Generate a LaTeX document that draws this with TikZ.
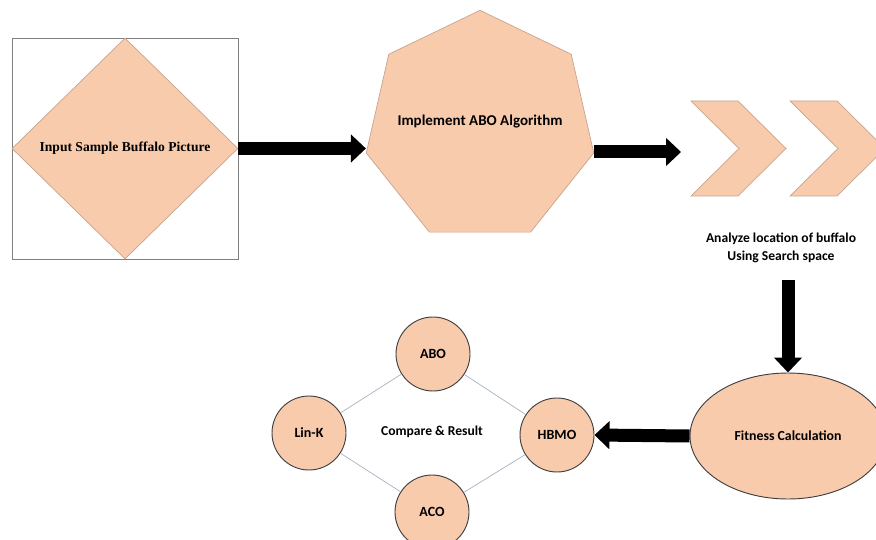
\documentclass[tikz,border=0pt]{standalone}
\usepackage{fontspec}
\setmainfont{Liberation Serif}
\newfontfamily\carlito{Carlito}
\usetikzlibrary{shapes.geometric,arrows.meta,positioning}

\definecolor{peach}{HTML}{F8CBAD}
\definecolor{peachline}{HTML}{C9A48C}
\definecolor{boxgray}{HTML}{7F7F7F}
\definecolor{linkblue}{HTML}{A7B3C1}
\definecolor{rim}{HTML}{404040}

\begin{document}
\begin{tikzpicture}[x=0.03cm, y=-0.03cm,
    fillshape/.style={fill=peach, draw=peachline, line width=0.6pt, inner sep=0pt},
    ball/.style={circle, fill=peach, draw=rim, line width=0.8pt, minimum size=2.22cm, inner sep=0pt,
                 font=\carlito\bfseries\fontsize{12}{14}\selectfont},
    blockarrow/.style={line width=0.39cm, -{Triangle[length=0.45cm, width=0.82cm]}},
    edgeline/.style={draw=linkblue, line width=0.6pt}]
    \useasboundingbox (0,0) rectangle (876,540);
    \clip (0,0) rectangle (876,540);

    \node[draw=boxgray, line width=0.8pt, minimum width=6.78cm, minimum height=6.63cm] (sq) at (125,148.5) {};
    \node[diamond, fillshape, minimum width=6.78cm, minimum height=6.63cm,
          font=\bfseries\fontsize{11.6}{13}\selectfont] (dia) at (125,148.5) {Input Sample Buffalo Picture};
    \node[regular polygon, regular polygon sides=7, fillshape, minimum size=7cm,
          label={[font=\carlito\bfseries\fontsize{12.8}{15}\selectfont, yshift=0.15cm]center:Implement ABO Algorithm}]
          (hept) at (480,127) {};

    \foreach \dx in {0,99}
        \filldraw[fill=peach, draw=peachline, line width=0.6pt] (691+\dx,101) -- (738+\dx,101) -- (786+\dx,148.5)
            -- (738+\dx,196) -- (691+\dx,196) -- (739+\dx,148.5) -- cycle;
    \coordinate (chevin) at (681,152);

    \node[font=\carlito\bfseries\fontsize{11.6}{15}\selectfont, align=center] (ana) at (781,248)
        {Analyze location of buffalo\\Using Search space};
    \node[ellipse, fill=peach, draw=rim, line width=0.8pt, minimum width=5.88cm, minimum height=3.78cm,
          font=\carlito\bfseries\fontsize{11.8}{14}\selectfont] (fit) at (788,436) {Fitness Calculation};

    \node[ball] (hbmo) at (557,435) {HBMO};
    \node[ball] (abo) at (433,354) {ABO};
    \node[ball] (link) at (309,433) {Lin-K};
    \node[ball] (aco) at (432,512) {ACO};
    \node[font=\carlito\bfseries\fontsize{11.6}{14}\selectfont] (cmp) at (432,432) {Compare \& Result};

    \draw[edgeline] (abo) -- (link);
    \draw[edgeline] (abo) -- (hbmo);
    \draw[edgeline] (link) -- (aco);
    \draw[edgeline] (aco) -- (hbmo);

    \draw[blockarrow] (dia.east) -- (dia.east -| hept.corner 3);
    \draw[blockarrow] (hept.corner 6 |- chevin) -- (chevin);
    \draw[blockarrow, shorten <=0.39cm] (ana.south -| fit.north) -- (fit.north);
    \draw[blockarrow] (fit.west) -- (hbmo.east);
\end{tikzpicture}
\end{document}
